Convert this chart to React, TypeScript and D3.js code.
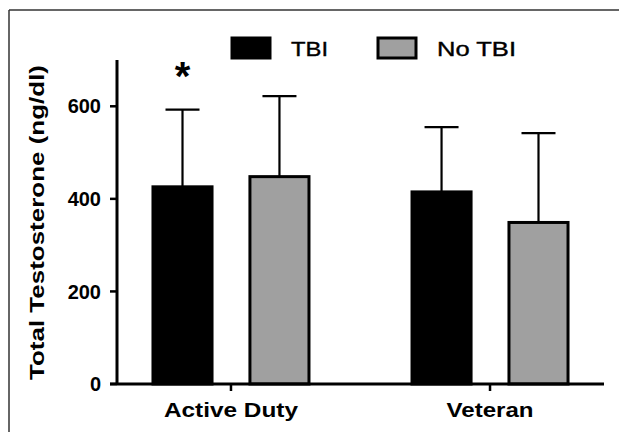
import React from "react";
import * as d3 from "d3";

// data
const categories = ["Active Duty", "Veteran"];
const series = ["TBI", "No TBI"];
const means = [
  [426, 448], // Active Duty: TBI, No TBI
  [415, 349], // Veteran
];
const errors = [
  [167, 174],
  [140, 193],
];
const significant = [
  [true, false],
  [false, false],
];
const yTicks = [0, 200, 400, 600];

const W = 619;
const H = 432;
const FONT = "'Liberation Sans', Arial, Helvetica, sans-serif";
const fills = ["#000000", "#a0a0a0"];

export default function App() {
  const y = d3.scaleLinear().domain([0, 700]).range([384, 60]);

  const x0 = d3
    .scalePoint<string>()
    .domain(categories)
    .range([117, 604])
    .padding(0.44);

  const x1 = d3
    .scaleBand<string>()
    .domain(series)
    .range([-79.5, 79.5])
    .paddingInner(0.36);

  const bw = x1.bandwidth();
  const capW = 34;

  const bars: any[] = [];
  categories.forEach((c, i) => {
    series.forEach((s, j) => {
      bars.push({
        c,
        s,
        j,
        v: means[i][j],
        e: errors[i][j],
        star: significant[i][j],
        x: (x0(c) as number) + (x1(s) as number),
      });
    });
  });

  return (
    <svg
      width={W}
      height={H}
      style={{ position: "absolute", left: 0, top: 0, background: "#fff" }}
      fontFamily={FONT}
    >
      {/* frame */}
      <line x1={9} y1={10} x2={W} y2={10} stroke="#333" strokeWidth={1.5} />
      <line x1={9} y1={10} x2={9} y2={H} stroke="#333" strokeWidth={1.5} />

      {/* error bars */}
      {bars.map((b, k) => (
        <g key={"e" + k} stroke="#000" strokeWidth={2.2}>
          <line x1={b.x + bw / 2} x2={b.x + bw / 2} y1={y(b.v)} y2={y(b.v + b.e)} />
          <line
            x1={b.x + bw / 2 - capW / 2}
            x2={b.x + bw / 2 + capW / 2}
            y1={y(b.v + b.e)}
            y2={y(b.v + b.e)}
          />
        </g>
      ))}

      {/* bars */}
      {bars.map((b, k) => (
        <rect
          key={"b" + k}
          x={b.x + 1.5}
          y={y(b.v)}
          width={bw - 3}
          height={y(0) - y(b.v)}
          fill={fills[b.j]}
          stroke="#000"
          strokeWidth={3}
        />
      ))}

      {/* significance */}
      {bars
        .filter((b) => b.star)
        .map((b, k) => (
          <text
            key={"s" + k}
            x={b.x + bw / 2}
            y={y(b.v + b.e) - 20}
            textAnchor="middle"
            fontSize={40}
            fontWeight="bold"
          >
            *
          </text>
        ))}

      {/* y axis */}
      <line x1={117} x2={117} y1={y(700)} y2={y(0)} stroke="#000" strokeWidth={3} />
      {yTicks.map((t) => (
        <g key={t}>
          <line x1={110} x2={117} y1={y(t)} y2={y(t)} stroke="#000" strokeWidth={2.5} />
          <text
            x={101}
            y={y(t)}
            dy="0.36em"
            textAnchor="end"
            fontSize={20}
            fontWeight="bold"
          >
            {t}
          </text>
        </g>
      ))}

      {/* x axis */}
      <line x1={110} x2={604} y1={y(0)} y2={y(0)} stroke="#000" strokeWidth={3} />
      {categories.map((c, i) => (
        <g key={c}>
          <line
            x1={x0(c)}
            x2={x0(c)}
            y1={y(0)}
            y2={y(0) + 7}
            stroke="#000"
            strokeWidth={2.5}
          />
          <text
            x={x0(c)}
            y={417}
            textAnchor="middle"
            fontSize={21}
            fontWeight="bold"
            textLength={i === 0 ? 134 : 87}
            lengthAdjust="spacingAndGlyphs"
          >
            {c}
          </text>
        </g>
      ))}

      {/* y label */}
      <text
        transform={`translate(44,${(65 + 380) / 2}) rotate(-90)`}
        textAnchor="middle"
        fontSize={21}
        fontWeight="bold"
        textLength={315}
        lengthAdjust="spacingAndGlyphs"
      >
        Total Testosterone (ng/dl)
      </text>

      {/* legend */}
      {series.map((s, j) => {
        const lx = j === 0 ? 232 : 378;
        return (
          <g key={s}>
            <rect
              x={lx}
              y={38}
              width={38}
              height={20}
              fill={fills[j]}
              stroke="#000"
              strokeWidth={3}
            />
            <text
              x={lx + 59}
              y={56}
              fontSize={21}
              stroke="#000"
              strokeWidth={0.4}
              textLength={j === 0 ? 37 : 79}
              lengthAdjust="spacingAndGlyphs"
            >
              {s}
            </text>
          </g>
        );
      })}
    </svg>
  );
}
